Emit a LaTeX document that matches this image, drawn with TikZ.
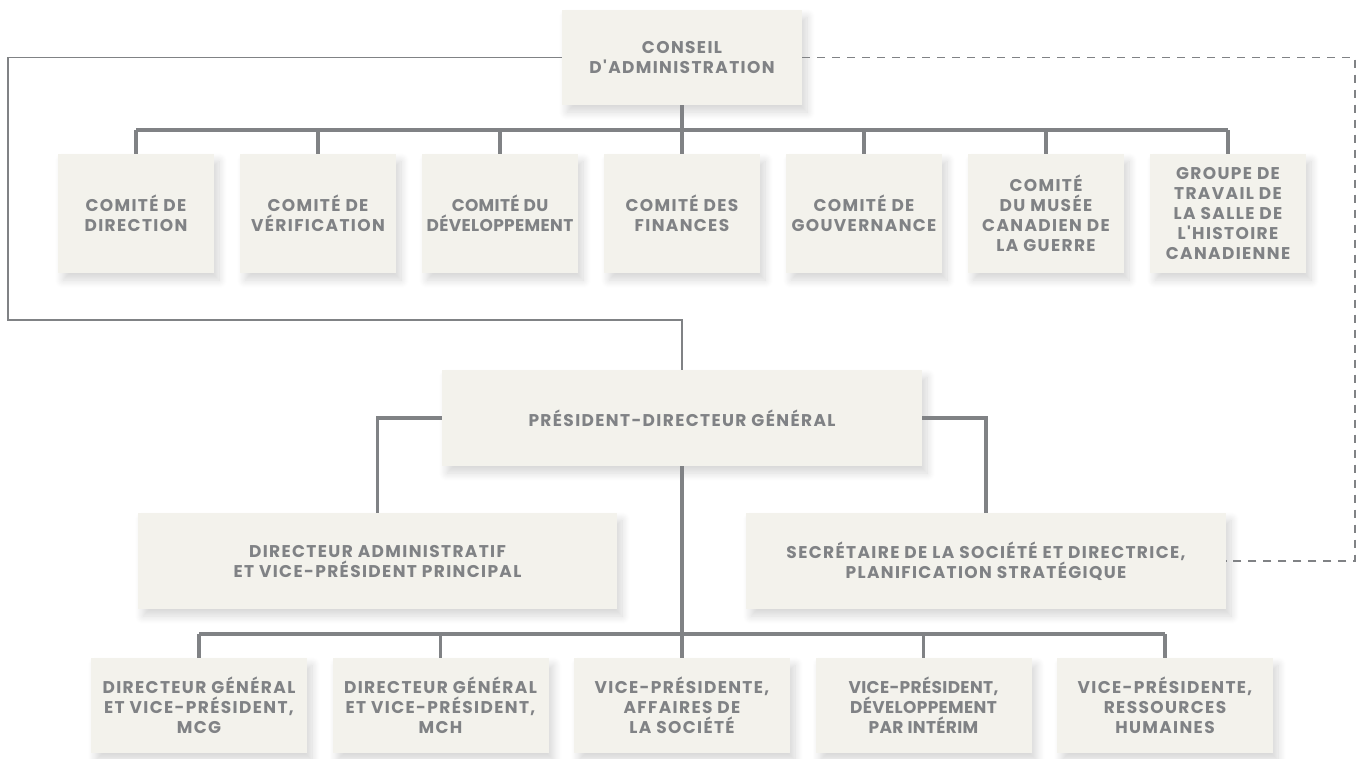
\documentclass[tikz,border=0pt]{standalone}
\usepackage{fontspec}
\newfontfamily\chartfont{Poppins}[LetterSpace=8]
\newfontfamily\tightfont{Poppins}[LetterSpace=2]
\usepackage{tikz}
\usetikzlibrary{positioning,shadows.blur}
\definecolor{boxfill}{HTML}{F3F2EC}
\definecolor{inkgray}{HTML}{808285}
\tikzset
{
    orgbox/.style = {rectangle, fill=boxfill, draw=none, align=center,
                        inner sep=0pt, anchor=center, text=inkgray,
                        font=\chartfont\bfseries\fontsize{17}{20}\selectfont,
                        blur shadow={shadow xshift=5pt, shadow yshift=-7pt,
                        shadow blur radius=8pt, shadow opacity=16,
                        shadow blur steps=10}},
    topbox/.style = {orgbox, minimum width=240, minimum height=95},
    combox/.style = {orgbox, minimum width=156, minimum height=119},
    widetext/.style = {font=\tightfont\bfseries\fontsize{17}{20}\selectfont},
    staffbox/.style = {orgbox, minimum width=480, minimum height=96},
    unitbox/.style = {orgbox, minimum width=216, minimum height=95},
    link/.style = {draw=inkgray, line width=3.5pt},
    thinlink/.style = {draw=inkgray, line width=1.8pt},
    dashlink/.style = {draw=inkgray, line width=1.8pt, dash pattern=on 8pt off 7pt}
}

\begin{document}
\begin{tikzpicture}[x=1pt, y=-1pt]
    \useasboundingbox (0,0) rectangle (1359,758);
    % Board
    \node[topbox] (conseil) at (682,57.5) {CONSEIL\\D'ADMINISTRATION};
    % Committees
    \node[combox] (com1) at (136,213.5) {COMITÉ DE\\DIRECTION};
    \node[combox] (com2) at (318,213.5) {COMITÉ DE\\VÉRIFICATION};
    \node[combox, widetext] (com3) at (500,213.5) {COMITÉ DU\\DÉVELOPPEMENT};
    \node[combox] (com4) at (682,213.5) {COMITÉ DES\\FINANCES};
    \node[combox] (com5) at (864,213.5) {COMITÉ DE\\GOUVERNANCE};
    \node[combox] (com6) at (1046,213.5) {COMITÉ\\DU MUSÉE\\CANADIEN DE\\LA GUERRE};
    \node[combox] (com7) at (1228,213.5) {GROUPE DE\\TRAVAIL DE\\LA SALLE DE\\L'HISTOIRE\\CANADIENNE};
    % President and staff
    \node[staffbox] (pdg) at (682,418) {PRÉSIDENT-DIRECTEUR GÉNÉRAL};
    \node[staffbox, minimum width=479] (dirad) at (377.5,561) {DIRECTEUR ADMINISTRATIF\\ET VICE-PRÉSIDENT PRINCIPAL};
    \node[staffbox] (secr) at (986,561) {SECRÉTAIRE DE LA SOCIÉTÉ ET DIRECTRICE,\\PLANIFICATION STRATÉGIQUE};
    % Vice-presidents
    \node[unitbox] (vp1) at (199,705.5) {DIRECTEUR GÉNÉRAL\\ET VICE-PRÉSIDENT,\\MCG};
    \node[unitbox] (vp2) at (440.5,705.5) {DIRECTEUR GÉNÉRAL\\ET VICE-PRÉSIDENT,\\MCH};
    \node[unitbox] (vp3) at (682,705.5) {VICE-PRÉSIDENTE,\\AFFAIRES DE\\LA SOCIÉTÉ};
    \node[unitbox, widetext] (vp4) at (923.5,705.5) {VICE-PRÉSIDENT,\\DÉVELOPPEMENT\\PAR INTÉRIM};
    \node[unitbox] (vp5) at (1165,705.5) {VICE-PRÉSIDENTE,\\RESSOURCES\\HUMAINES};
    % Bus points
    \coordinate (combar) at (682,130);
    \coordinate (vpbar) at (682,634);
    \coordinate (lftcorner) at (8,320);
    \coordinate (rgtcorner) at (1355,561);
    % Connectors
    \draw[link] (conseil.south) -- (com4.north);
    \draw[link] (com1.north |- combar) -- (com7.north |- combar);
    \foreach \i in {1,2,3,5,6,7}
        \draw[link] (com\i.north) -- (com\i.north |- combar);
    \draw[link] (pdg.west) -| (dirad.north);
    \draw[link] (pdg.east) -| (secr.north);
    \draw[link] (pdg.south) -- (vp3.north);
    \draw[link] (vp1.north |- vpbar) -- (vp5.north |- vpbar);
    \foreach \i in {1,2,4,5}
        \draw[link] (vp\i.north) -- (vp\i.north |- vpbar);
    \draw[thinlink] (conseil.west) -| (lftcorner) -| (pdg.north);
    \draw[dashlink] (conseil.east) -| (rgtcorner) -- (secr.east);
\end{tikzpicture}
\end{document}
